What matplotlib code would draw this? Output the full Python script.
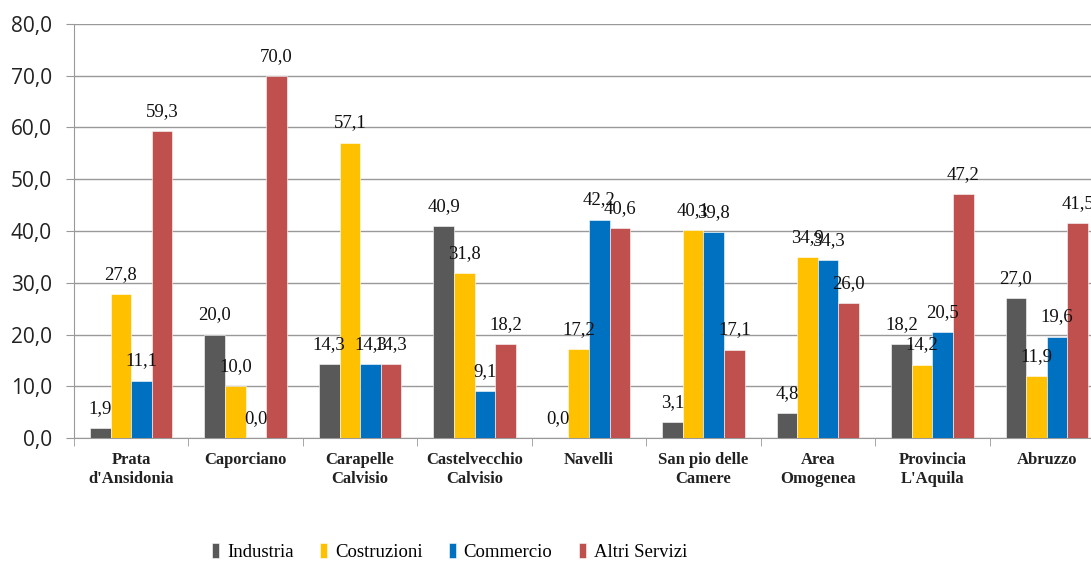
import matplotlib
matplotlib.use("Agg")
import matplotlib.pyplot as plt
import numpy as np
from matplotlib.ticker import FixedLocator

categories = ["Prata\nd'Ansidonia", "Caporciano", "Carapelle\nCalvisio",
              "Castelvecchio\nCalvisio", "Navelli", "San pio delle\nCamere",
              "Area\nOmogenea", "Provincia\nL'Aquila", "Abruzzo"]
series_names = ["Industria", "Costruzioni", "Commercio", "Altri Servizi"]
industria = [1.9, 20.0, 14.3, 40.9, 0.0, 3.1, 4.8, 18.2, 27.0]
costruzioni = [27.8, 10.0, 57.1, 31.8, 17.2, 40.1, 34.9, 14.2, 11.9]
commercio = [11.1, 0.0, 14.3, 9.1, 42.2, 39.8, 34.3, 20.5, 19.6]
altri = [59.3, 70.0, 14.3, 18.2, 40.6, 17.1, 26.0, 47.2, 41.5]
colors = ["#595959", "#FFC000", "#0070C0", "#C0504D"]

SERIF = ["Liberation Serif", "DejaVu Serif"]
SANS = ["Open Sans", "DejaVu Sans"]

fig = plt.figure(figsize=(10.91, 5.62), dpi=100)
ax = fig.add_axes([74 / 1091, 1 - 438 / 562, 1030 / 1091, 414 / 562])

x = np.arange(len(categories))
w = 0.18
values = [industria, costruzioni, commercio, altri]
for i, (name, vals, col) in enumerate(zip(series_names, values, colors)):
    pos = x + (i - 1.5) * w
    ax.bar(pos, vals, w, color=col, edgecolor="white", linewidth=0.4, label=name, zorder=3)
    for px, v in zip(pos, vals):
        ax.annotate(f"{v:.1f}".replace(".", ","), (px, v), xytext=(0, 8),
                    textcoords="offset points", ha="center", va="bottom",
                    fontsize=13.5, family=SERIF, color="#111111", zorder=4)

ax.set_xlim(-0.5, len(categories) - 0.5)
ax.set_ylim(0, 80)
ax.set_yticks(np.arange(0, 81, 10))
ax.set_yticklabels([f"{t:.1f}".replace(".", ",") for t in np.arange(0, 81, 10)],
                   fontsize=15, family=SANS, color="#222222")
ax.yaxis.grid(True, color="#999999", linewidth=1, zorder=0)
ax.tick_params(axis="y", length=6, color="#999999", pad=10)

ax.set_xticks(x)
ax.set_xticklabels(categories, fontsize=12, family=SERIF, fontweight="bold",
                   color="#222222", linespacing=1.3)
ax.xaxis.set_minor_locator(FixedLocator(np.arange(-0.5, len(categories), 1)))
ax.tick_params(axis="x", which="major", length=0, pad=10)
ax.tick_params(axis="x", which="minor", length=6, color="#999999")

for s in ("top", "right"):
    ax.spines[s].set_visible(False)
for s in ("left", "bottom"):
    ax.spines[s].set_color("#999999")

fig.legend(loc="center", bbox_to_anchor=(0.412, 0.018), ncol=4, frameon=False,
           prop={"family": SERIF, "size": 13.5},
           handlelength=0.4, handleheight=0.9, handletextpad=0.4, columnspacing=1.4)

fig.savefig("out.png", dpi=100)
